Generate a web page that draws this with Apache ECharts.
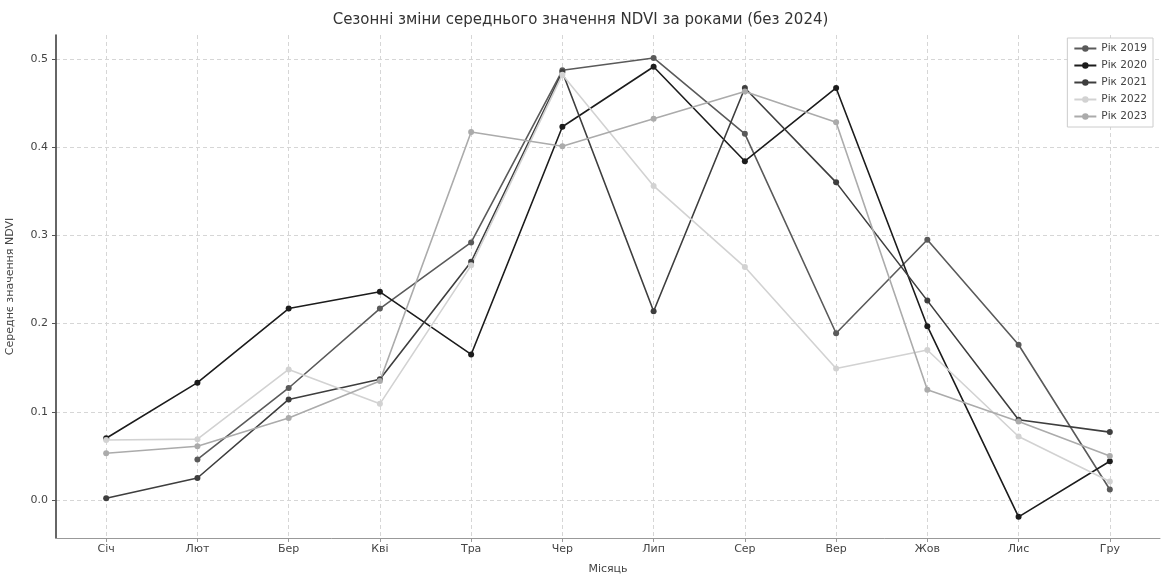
<!DOCTYPE html>
<html>
<head>
<meta charset="utf-8">
<script src="https://cdn.jsdelivr.net/npm/echarts@6/dist/echarts.min.js"></script>
<style>
html,body{margin:0;padding:0;background:#fff;}
#chart{width:1161px;height:574px;}
</style>
</head>
<body>
<div id="chart"></div>
<script>
const months = ['Січ','Лют','Бер','Кві','Тра','Чер','Лип','Сер','Вер','Жов','Лис','Гру'];
const yTicks = [0, 0.1, 0.2, 0.3, 0.4, 0.5];
const years = ['Рік 2019','Рік 2020','Рік 2021','Рік 2022','Рік 2023'];
const y2019 = [null, 0.046, 0.127, 0.217, 0.292, 0.487, 0.501, 0.415, 0.189, 0.295, 0.176, 0.012];
const y2020 = [0.070, 0.133, 0.217, 0.236, 0.165, 0.423, 0.491, 0.384, 0.467, 0.197, -0.019, 0.044];
const y2021 = [0.002, 0.025, 0.114, 0.137, 0.270, 0.485, 0.214, 0.467, 0.360, 0.226, 0.091, 0.077];
const y2022 = [0.068, 0.069, 0.148, 0.109, 0.266, 0.482, 0.356, 0.264, 0.149, 0.170, 0.072, 0.021];
const y2023 = [0.053, 0.061, 0.093, 0.135, 0.417, 0.401, 0.432, 0.463, 0.428, 0.125, 0.089, 0.050];
const seriesValues = [y2019, y2020, y2021, y2022, y2023];
const colors = ['#5a5a5a', '#1c1c1c', '#3e3e3e', '#d2d2d2', '#ababab'];

const FONT = 'DejaVu Sans';
const chart = echarts.init(document.getElementById('chart'), null, {renderer: 'canvas'});

const series = years.map((name, k) => ({
  name: name,
  type: 'line',
  data: seriesValues[k].map((v, i) => [i, v]),
  symbol: 'circle',
  symbolSize: 6,
  connectNulls: false,
  lineStyle: {color: colors[k], width: 1.6},
  itemStyle: {color: colors[k]},
  emphasis: {disabled: true},
  animation: false
}));

chart.setOption({
  animation: false,
  backgroundColor: '#fff',
  textStyle: {fontFamily: FONT},
  title: {
    text: 'Сезонні зміни середнього значення NDVI за роками (без 2024)',
    left: 'center',
    top: 8,
    textStyle: {fontFamily: FONT, fontSize: 15, fontWeight: 'normal', color: '#333'}
  },
  legend: {
    orient: 'vertical',
    right: 8,
    top: 38,
    itemWidth: 22,
    itemHeight: 8,
    itemGap: 6,
    padding: [5, 6, 5, 6],
    borderColor: '#cccccc',
    borderWidth: 1,
    backgroundColor: '#fff',
    textStyle: {fontFamily: FONT, fontSize: 10.5, color: '#444'},
    data: years
  },
  grid: {left: 56, right: 1, top: 35, bottom: 36, containLabel: false, outerBoundsMode: 'none'},
  xAxis: {
    type: 'value',
    min: -0.55,
    max: 11.55,
    name: 'Місяць',
    nameLocation: 'middle',
    nameGap: 26,
    nameTextStyle: {fontFamily: FONT, fontSize: 11, color: '#444'},
    axisLine: {show: true, onZero: false, lineStyle: {color: '#999', width: 1}},
    axisTick: {show: true, length: 4, lineStyle: {color: '#999'}, customValues: months.map((m, i) => i)},
    axisLabel: {
      fontFamily: FONT, fontSize: 11, color: '#444', margin: 6,
      customValues: months.map((m, i) => i),
      formatter: v => months[Math.round(v)] || ''
    },
    splitLine: {show: true, lineStyle: {color: '#d6d6d6', type: [4, 3], width: 1}}
  },
  yAxis: {
    type: 'value',
    min: -0.043,
    max: 0.527,
    name: 'Середнє значення NDVI',
    nameLocation: 'middle',
    nameGap: 40,
    nameTextStyle: {fontFamily: FONT, fontSize: 11, color: '#444'},
    axisLine: {show: true, onZero: false, lineStyle: {color: '#333', width: 1.5}},
    axisTick: {show: true, length: 4, lineStyle: {color: '#555'}, customValues: yTicks},
    axisLabel: {
      fontFamily: FONT, fontSize: 11, color: '#444', margin: 8,
      customValues: yTicks,
      formatter: v => Number(v).toFixed(1)
    },
    splitLine: {show: true, lineStyle: {color: '#d6d6d6', type: [4, 3], width: 1}}
  },
  series: series
});
</script>
</body>
</html>
